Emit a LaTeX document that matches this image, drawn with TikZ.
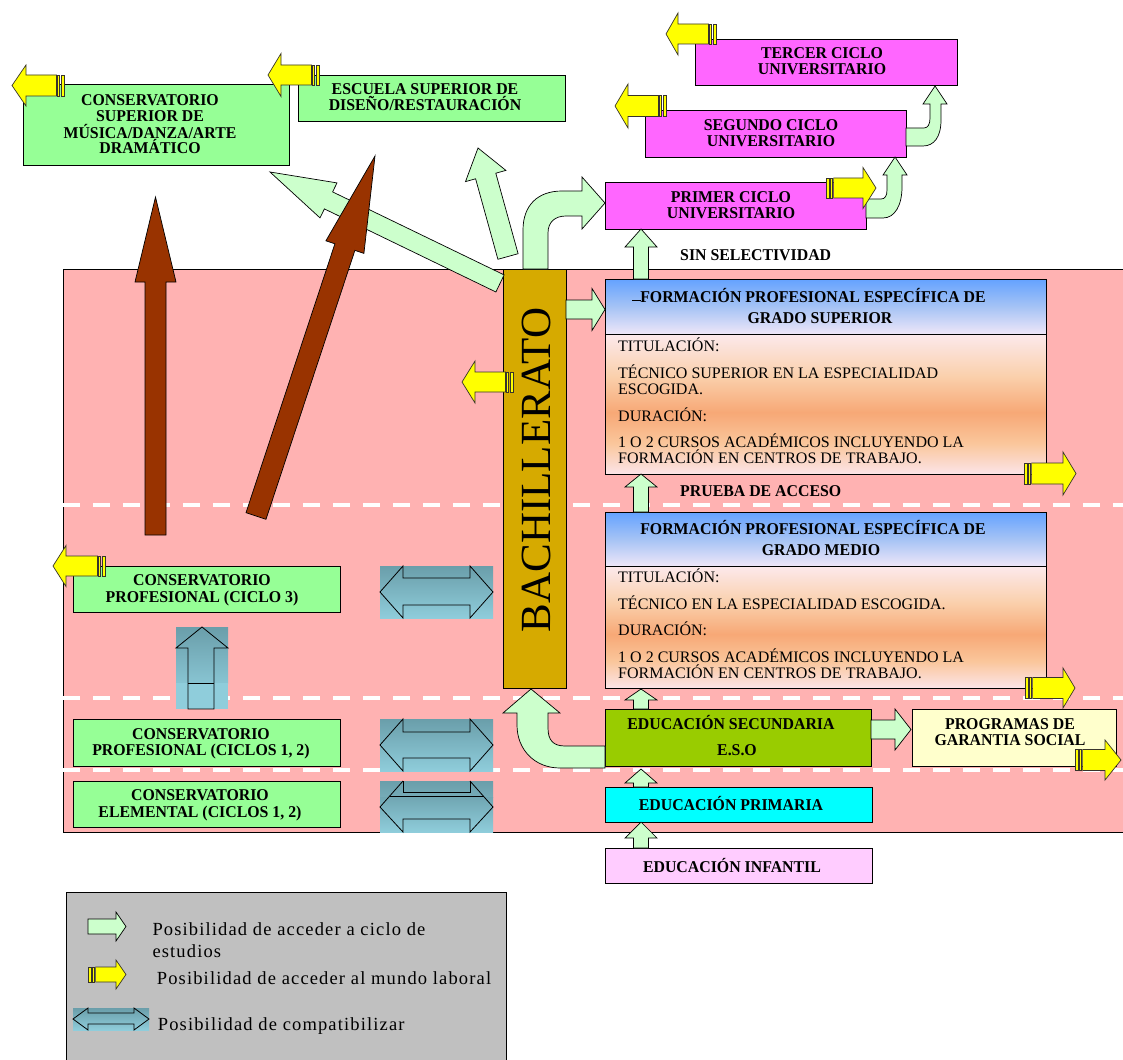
\documentclass[tikz,border=0pt]{standalone}
\usepackage{fontspec}
\setmainfont{Liberation Serif}
\newfontfamily\bfx{Liberation Serif}[FakeStretch=0.96]
\newfontfamily\legfx{Liberation Serif}[LetterSpace=6.2]
\definecolor{pinkbg}{RGB}{255,178,178}
\definecolor{grn}{RGB}{150,255,150}
\definecolor{mag}{RGB}{255,102,255}
\definecolor{gold}{RGB}{214,170,0}
\definecolor{brownA}{RGB}{153,51,0}
\definecolor{garrc}{RGB}{204,255,204}
\definecolor{yel}{RGB}{255,255,0}
\definecolor{esoc}{RGB}{153,204,0}
\definecolor{progc}{RGB}{255,255,204}
\definecolor{primc}{RGB}{0,255,255}
\definecolor{infc}{RGB}{255,204,255}
\definecolor{legc}{RGB}{192,192,192}
\definecolor{cmpT}{RGB}{106,158,170}
\definecolor{cmpB}{RGB}{143,205,219}
\definecolor{cmpM}{RGB}{118,172,184}
\definecolor{cmpT2}{RGB}{112,166,178}
\definecolor{cmpU}{RGB}{136,196,210}
\definecolor{fph1}{RGB}{100,162,255}
\definecolor{fph2}{RGB}{165,195,245}
\definecolor{fph3}{RGB}{238,230,248}
\definecolor{fpb1}{RGB}{252,228,232}
\definecolor{fpb2}{RGB}{250,198,155}
\definecolor{fpb3}{RGB}{247,168,118}
\definecolor{fpb4}{RGB}{250,208,172}
\definecolor{fpb5}{RGB}{252,233,236}
\pgfdeclareverticalshading{fphead}{100bp}{color(0bp)=(fph3); color(25bp)=(fph3); color(50bp)=(fph2); color(75bp)=(fph1); color(100bp)=(fph1)}
\pgfdeclareverticalshading{fpbody}{100bp}{color(0bp)=(fpb1); color(25bp)=(fpb1); color(36bp)=(fpb2); color(47bp)=(fpb3); color(60bp)=(fpb4); color(75bp)=(fpb5); color(100bp)=(fpb5)}
% block arrows: style, centre, tail, tip, head length, shaft width, head width
\newcommand\uparr[7]{\draw[#1] ({#2-#6/2},{#3}) -- ({#2-#6/2},{#4+#5}) -- ({#2-#7/2},{#4+#5}) -- ({#2},{#4}) -- ({#2+#7/2},{#4+#5}) -- ({#2+#6/2},{#4+#5}) -- ({#2+#6/2},{#3}) -- cycle;}
\newcommand\rtarr[7]{\draw[#1] ({#3},{#2-#6/2}) -- ({#4-#5},{#2-#6/2}) -- ({#4-#5},{#2-#7/2}) -- ({#4},{#2}) -- ({#4-#5},{#2+#7/2}) -- ({#4-#5},{#2+#6/2}) -- ({#3},{#2+#6/2}) -- cycle;}
\newcommand\ltarr[7]{\draw[#1] ({#3},{#2-#6/2}) -- ({#4+#5},{#2-#6/2}) -- ({#4+#5},{#2-#7/2}) -- ({#4},{#2}) -- ({#4+#5},{#2+#7/2}) -- ({#4+#5},{#2+#6/2}) -- ({#3},{#2+#6/2}) -- cycle;}
% striped yellow arrows: centre y, stripe start, tip, head length, shaft width, head width
\newcommand\yrarr[6]{\draw[yarr] ({#2},{#1-#5/2}) rectangle ({#2+3},{#1+#5/2});
 \draw[yarr] ({#2+4.2},{#1-#5/2}) rectangle ({#2+6.4},{#1+#5/2});
 \rtarr{yarr}{#1}{#2+7.6}{#3}{#4}{#5}{#6}}
\newcommand\ylarr[6]{\draw[yarr] ({#2},{#1-#5/2}) rectangle ({#2-3},{#1+#5/2});
 \draw[yarr] ({#2-4.2},{#1-#5/2}) rectangle ({#2-6.4},{#1+#5/2});
 \ltarr{yarr}{#1}{#2-7.6}{#3}{#4}{#5}{#6}}
\begin{document}
\begin{tikzpicture}[x=1pt,y=-1pt,
 box/.style={draw=black, line width=0.8pt, inner sep=0pt, outer sep=0pt, anchor=north west},
 garr/.style={fill=garrc, draw=black, line width=0.7pt, line join=miter},
 yarr/.style={fill=yel, draw=black!80!olive, line width=0.7pt},
 barr/.style={fill=brownA, draw=black, line width=0.7pt},
 cmpl/.style={draw=black, line width=0.8pt},
 bt/.style={font=\bfx\bfseries\fontsize{16.5}{17}\selectfont, inner sep=0pt, anchor=base},
 btl/.style={bt, anchor=base west},
 rt/.style={font=\fontsize{16}{17}\selectfont, inner sep=0pt, anchor=base west},
 lt/.style={font=\legfx\fontsize{18.5}{22}\selectfont, inner sep=0pt, anchor=base west}]
\useasboundingbox (0,0) rectangle (1123,1059);
% background band
\draw[fill=pinkbg, line width=0.8pt] (63,269) rectangle (1140,832);
\foreach \yy in {504.5,698,770}
  \draw[white, line width=4pt, dash pattern=on 17pt off 13pt] (63,\yy) -- (1123,\yy);

% boxes
\node[box, fill=grn, minimum width=266pt, minimum height=81pt] (cs) at (23,84) {};
\node[box, fill=grn, minimum width=267pt, minimum height=46pt] (es) at (298,75) {};
\node[box, fill=mag, minimum width=262pt, minimum height=46pt] (tc) at (695,39) {};
\node[box, fill=mag, minimum width=261pt, minimum height=47pt] (sc) at (645,110) {};
\node[box, fill=mag, minimum width=261pt, minimum height=47pt] (pc) at (605,182) {};
\node[box, fill=gold, minimum width=63pt, minimum height=419pt] (bach) at (503,269) {};
\shade[shading=fphead] (605,279) rectangle (1046,334);
\shade[shading=fpbody] (605,334) rectangle (1046,474);
\node[box, minimum width=441pt, minimum height=195pt] (fps) at (605,279) {};
\draw[line width=0.8pt] (605,334) -- (1046,334);
\shade[shading=fphead] (605,512) rectangle (1046,566);
\shade[shading=fpbody] (605,566) rectangle (1046,688);
\node[box, minimum width=441pt, minimum height=176pt] (fpm) at (605,512) {};
\draw[line width=0.8pt] (605,566) -- (1046,566);
\node[box, fill=esoc, minimum width=266pt, minimum height=57pt] (eso) at (605,709) {};
\node[box, fill=progc, minimum width=204pt, minimum height=57pt] (prog) at (912,709) {};
\node[box, fill=primc, minimum width=267pt, minimum height=35pt] (prim) at (605,787) {};
\node[box, fill=infc, minimum width=267pt, minimum height=35pt] (inf) at (605,848) {};
\node[box, fill=grn, minimum width=267pt, minimum height=46pt] (cp3) at (73,566) {};
\node[box, fill=grn, minimum width=267pt, minimum height=47pt] (cp12) at (73,719) {};
\node[box, fill=grn, minimum width=267pt, minimum height=46pt] (ce) at (73,781) {};

% texts in boxes
\node[bt] (t1) at (150,106) {CONSERVATORIO};
\node[bt] (t2) at (150,121.7) {SUPERIOR DE};
\node[bt] (t3) at (150,138.3) {MÚSICA/DANZA/ARTE};
\node[bt] (t4) at (150,154) {DRAMÁTICO};
\node[bt] (t5) at (425,95) {ESCUELA SUPERIOR DE};
\node[bt] (t6) at (425,111) {DISEÑO/RESTAURACIÓN};
\node[bt] (t7) at (822,58.3) {TERCER CICLO};
\node[bt] (t8) at (822,75) {UNIVERSITARIO};
\node[bt] (t9) at (771,130.7) {SEGUNDO CICLO};
\node[bt] (t10) at (771,146.7) {UNIVERSITARIO};
\node[bt] (t11) at (731,202.3) {PRIMER CICLO};
\node[bt] (t12) at (731,218.3) {UNIVERSITARIO};
\node[btl] (t13) at (680,260.7) {SIN SELECTIVIDAD};
\node[btl] (t14) at (680,496) {PRUEBA DE ACCESO};
\node[bt] (t15) at (813,302.3) {FORMACIÓN PROFESIONAL ESPECÍFICA DE};
\draw[line width=0.8pt] (632,300.5) -- (641,300.5);
\node[bt] (t16) at (820,323.3) {GRADO SUPERIOR};
\node[rt] (t17) at (618,351) {TITULACIÓN:};
\node[rt] (t18) at (618,378.3) {TÉCNICO SUPERIOR EN LA ESPECIALIDAD};
\node[rt] (t19) at (618,394) {ESCOGIDA.};
\node[rt] (t20) at (618,421) {DURACIÓN:};
\node[rt] (t21) at (618,447.3) {1 O 2 CURSOS ACADÉMICOS INCLUYENDO LA};
\node[rt] (t22) at (618,463.3) {FORMACIÓN EN CENTROS DE TRABAJO.};
\node[bt] (t23) at (813,534.3) {FORMACIÓN PROFESIONAL ESPECÍFICA DE};
\node[bt] (t24) at (821,555) {GRADO MEDIO};
\node[rt] (t25) at (618,582.7) {TITULACIÓN:};
\node[rt] (t26) at (618,609.3) {TÉCNICO EN LA ESPECIALIDAD ESCOGIDA.};
\node[rt] (t27) at (618,635) {DURACIÓN:};
\node[rt] (t28) at (618,662.3) {1 O 2 CURSOS ACADÉMICOS INCLUYENDO LA};
\node[rt] (t29) at (618,678.3) {FORMACIÓN EN CENTROS DE TRABAJO.};
\node[bt] (t30) at (731,729.3) {EDUCACIÓN SECUNDARIA};
\node[bt] (t31) at (737,755.7) {E.S.O};
\node[bt] (t32) at (1010,729.3) {PROGRAMAS DE};
\node[bt] (t33) at (1010,745.7) {GARANTIA SOCIAL};
\node[bt] (t34) at (731,810.7) {EDUCACIÓN PRIMARIA};
\node[bt] (t35) at (732,872.3) {EDUCACIÓN INFANTIL};
\node[bt] (t36) at (202,585.7) {CONSERVATORIO};
\node[bt] (t37) at (202,602.3) {PROFESIONAL (CICLO 3)};
\node[bt] (t38) at (201,739.3) {CONSERVATORIO};
\node[bt] (t39) at (201,755.7) {PROFESIONAL (CICLOS 1, 2)};
\node[bt] (t40) at (200,800.7) {CONSERVATORIO};
\node[bt] (t41) at (200,817.3) {ELEMENTAL (CICLOS 1, 2)};
\node[rotate=90, anchor=base, inner sep=0pt, font=\fontsize{43}{43}\selectfont] (t42) at (550,470) {BACHILLERATO};

% green access arrows
\draw[garr] (504.1,274.9) -- (332.6,191.9) -- (337.0,182.9) -- (270,172) -- (320.0,217.9) -- (324.4,208.9) -- (495.9,292.0) -- cycle;
\draw[garr] (518.1,253.7) -- (495.8,173.2) -- (505.9,170.4) -- (478,148) -- (465.5,181.6) -- (475.6,178.8) -- (497.9,259.3) -- cycle;
\draw[garr] (523,269) -- (523,230) .. controls (523,205) and (538,191) .. (562,191) -- (582,191) -- (582,177) -- (605,203) -- (582,229) -- (582,216) -- (566,216) .. controls (555,216) and (548,222) .. (548,233) -- (548,269) -- cycle;
\draw[garr] (866,218) -- (883,218) .. controls (895,218) and (902,205) .. (902,187) -- (902,175) -- (907,175) -- (895,157) -- (883,175) -- (887,175) -- (887,190) .. controls (887,196) and (885,199) .. (881,199) -- (866,199) -- cycle;
\draw[garr] (906,146) -- (923,146) .. controls (934,146) and (941,137) .. (941,120) -- (941,104) -- (947,104) -- (935,86) -- (923,104) -- (930,104) -- (930,118) .. controls (930,124) and (928,128) .. (924,128) -- (906,128) -- cycle;
\draw[garr] (605,768) -- (560,768) .. controls (535,768) and (517,750) .. (517,725) -- (517,713) -- (503,713) -- (531,689) -- (560,713) -- (548,713) -- (548,728) .. controls (548,740) and (553,746) .. (565,746) -- (605,746) -- cycle;
\rtarr{garr}{309.5}{566}{605}{13}{19}{42}
\uparr{garr}{641}{279}{229}{18}{15}{32}
\uparr{garr}{641}{512}{474}{13}{15}{32}
\uparr{garr}{641}{709}{689}{11}{15}{32}
\uparr{garr}{641}{787}{769}{14}{15}{32}
\uparr{garr}{641}{848}{822}{16}{15}{32}
\rtarr{garr}{729.5}{871}{911}{16}{19}{41}

% brown arrows
\uparr{barr}{155.5}{535}{197}{85}{21}{41}
\draw[barr] (246.0,512.7) -- (334.9,243.8) -- (325.9,240.8) -- (375,156) -- (363.9,253.4) -- (354.9,250.4) -- (266.0,519.3) -- cycle;

% yellow (labour market) arrows
\ylarr{85.5}{64}{12}{14}{21}{41}
\ylarr{75}{319}{268}{13}{20}{43}
\ylarr{34}{716}{666}{12}{20}{42}
\ylarr{106}{666}{615}{13}{21}{44}
\ylarr{382}{513}{462}{13}{20}{42}
\ylarr{566}{105}{53}{13}{20}{41}
\yrarr{188}{826}{876}{13}{20}{41}
\yrarr{473.5}{1024}{1076}{13}{21}{43}
\yrarr{688}{1025}{1075}{12}{21}{40}
\yrarr{760}{1075}{1121}{16}{21}{40}

% compatibility arrows
\shade[top color=cmpT, bottom color=cmpB] (380,566) rectangle (493,618);
\draw[cmpl] (380,592) -- (403,566) -- (403,578) -- (470,578) -- (470,566) -- (493,592) -- (470,618) -- (470,605) -- (403,605) -- (403,618) -- cycle;
\shade[top color=cmpT, bottom color=cmpB] (380,719) rectangle (493,771);
\draw[cmpl] (380,745) -- (403,719) -- (403,732) -- (470,732) -- (470,719) -- (493,745) -- (470,771) -- (470,758) -- (403,758) -- (403,771) -- cycle;
\shade[top color=cmpT, bottom color=cmpM] (380,781) rectangle (493,797);
\shade[top color=cmpT2, bottom color=cmpB] (380,797) rectangle (493,832);
\draw[cmpl] (403,781) -- (380,807) -- (403,832) -- (403,819) -- (470,819) -- (470,832) -- (493,807) -- (470,781);
\draw[cmpl] (389.5,796) -- (483.5,796);
\draw[cmpl] (403,781) -- (403,792) -- (470,792) -- (470,781);
\shade[top color=cmpT, bottom color=cmpU] (176,627) rectangle (228,683);
\fill[cmpB] (176,683) rectangle (228,709);
\draw[cmpl] (202,627) -- (228,648) -- (214,648) -- (214,709) -- (188,709) -- (188,648) -- (176,648) -- cycle;
\draw[cmpl] (188,683) -- (214,683);

% legend
\node[box, fill=legc, minimum width=440pt, minimum height=175pt] (leg) at (66,892) {};
\rtarr{garr}{926.5}{88}{126}{10}{15}{29}
\yrarr{974.5}{88}{126}{10}{15}{29}
\shade[top color=cmpT, bottom color=cmpB] (73,1008) rectangle (149,1030);
\draw[cmpl] (73,1019) -- (88,1008) -- (88,1013) -- (134,1013) -- (134,1008) -- (149,1019) -- (134,1030) -- (134,1024) -- (88,1024) -- (88,1030) -- cycle;
\node[lt] (l1) at (152.3,935) {Posibilidad de acceder a ciclo de};
\node[lt] (l2) at (152.3,957.3) {estudios};
\node[lt] (l3) at (156.7,984.3) {Posibilidad de acceder al mundo laboral};
\node[lt] (l4) at (157.7,1030.7) {Posibilidad de compatibilizar};
\end{tikzpicture}
\end{document}
